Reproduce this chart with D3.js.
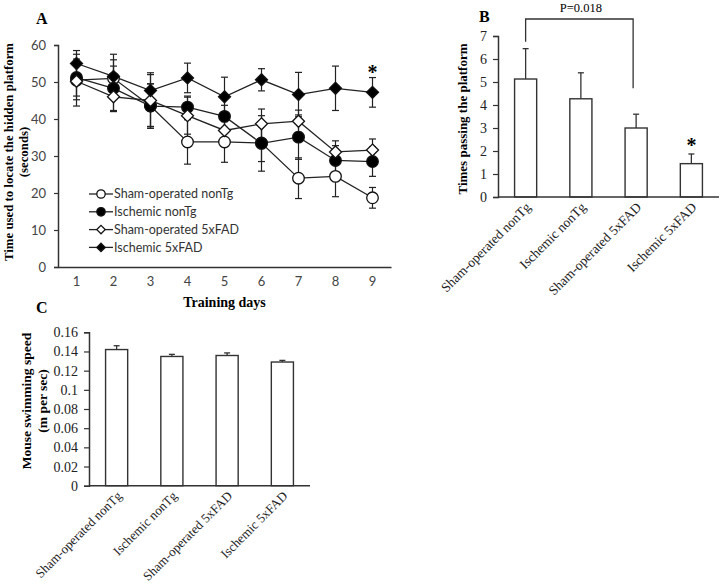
<!DOCTYPE html>
<html>
<head>
<meta charset="utf-8">
<script src="https://cdn.jsdelivr.net/npm/d3@7"></script>
<style>
  body { margin: 0; background: #fff; }
  svg { display: block; }
</style>
</head>
<body>
<div id="chart"></div>
<script>
// panel A: escape latency over training days
const days = [1, 2, 3, 4, 5, 6, 7, 8, 9];
const groups = ["Sham-operated nonTg", "Ischemic nonTg", "Sham-operated 5xFAD", "Ischemic 5xFAD"];
const shamNonTg = [50.5, 51, 43.5, 33.8, 33.8, 33.5, 24, 24.5, 18.7];
const shamNonTgErr = [7, 5, 6, 6, 5.5, 5, 5.5, 5.5, 2.8];
const ischNonTg = [51.2, 48.3, 43.5, 43.2, 40.7, 33.4, 35.1, 28.8, 28.5];
const ischNonTgErr = [5, 6, 6, 3, 3, 7.5, 6, 4, 4];
const shamFad = [50.2, 46, 45, 40.9, 36.9, 38.7, 39.4, 31.1, 31.6];
const shamFadErr = [5, 4, 7, 5, 4, 4, 3, 3, 3];
const ischFad = [55, 51.5, 47.7, 51.1, 46, 50.6, 46.6, 48.3, 47.2];
const ischFadErr = [3.5, 6, 4.8, 4, 5.3, 3, 6, 6, 4];
const yTicksA = [0, 10, 20, 30, 40, 50, 60];

// panel B: platform crossings
const crossings = [5.13, 4.27, 3.0, 1.45];
const crossingsErr = [1.32, 1.13, 0.6, 0.42];
const yTicksB = [0, 1, 2, 3, 4, 5, 6, 7];

// panel C: swimming speed
const speed = [0.142, 0.1348, 0.1358, 0.129];
const speedErr = [0.004, 0.0022, 0.0027, 0.0017];
const yTicksC = [0, 0.02, 0.04, 0.06, 0.08, 0.1, 0.12, 0.14, 0.16];

const serif = "'Liberation Serif', 'Times New Roman', serif";
const sans = "Lato, 'Open Sans', sans-serif";
const ink = "#333";

const svg = d3.select("#chart").append("svg")
  .attr("width", 723)
  .attr("height", 585);

// ---------- panel A ----------
const A = { left: 58, right: 391, top: 45, bottom: 267 };
const xA = d3.scaleBand().domain(days).range([A.left, A.right]);
const yA = d3.scaleLinear().domain([0, 60]).range([A.bottom, A.top]);

const gA = svg.append("g");

gA.append("g")
  .attr("transform", `translate(${A.left},0)`)
  .call(d3.axisLeft(yA).tickValues(yTicksA).tickSize(4).tickPadding(8))
  .call(g => g.select(".domain").attr("stroke", ink).attr("stroke-width", 1.5))
  .call(g => g.selectAll(".tick line").attr("stroke", ink).attr("stroke-width", 1.2))
  .call(g => g.selectAll("text").attr("font-family", sans).attr("font-size", 13).attr("fill", "#444"));

gA.append("g")
  .attr("transform", `translate(0,${A.bottom})`)
  .call(d3.axisBottom(xA).tickSize(0).tickPadding(10).tickSizeOuter(0))
  .call(g => g.select(".domain").attr("stroke", ink).attr("stroke-width", 1.5))
  .call(g => g.selectAll("text").attr("font-family", sans).attr("font-size", 13).attr("fill", "#444"));

gA.append("text")
  .attr("x", (A.left + A.right) / 2).attr("y", 307)
  .attr("text-anchor", "middle")
  .attr("font-family", serif).attr("font-weight", "bold").attr("font-size", 14)
  .text("Training days");

gA.append("text")
  .attr("transform", "translate(13,152) rotate(-90)")
  .attr("text-anchor", "middle")
  .attr("font-family", serif).attr("font-weight", "bold").attr("font-size", 12.8)
  .text("Time used to locate the hidden platform");
gA.append("text")
  .attr("transform", "translate(28,152) rotate(-90)")
  .attr("text-anchor", "middle")
  .attr("font-family", serif).attr("font-weight", "bold").attr("font-size", 12.8)
  .text("(seconds)");

gA.append("text")
  .attr("x", 36).attr("y", 24)
  .attr("font-family", serif).attr("font-weight", "bold").attr("font-size", 16)
  .text("A");

const series = [
  { name: groups[0], values: shamNonTg, err: shamNonTgErr, shape: "circle", fill: "#fff" },
  { name: groups[1], values: ischNonTg, err: ischNonTgErr, shape: "circle", fill: "#000" },
  { name: groups[2], values: shamFad, err: shamFadErr, shape: "diamond", fill: "#fff" },
  { name: groups[3], values: ischFad, err: ischFadErr, shape: "diamond", fill: "#000" }
];

const cx = d => xA(d) + xA.bandwidth() / 2;

function marker(sel, shape, fill, r) {
  if (shape === "circle") {
    sel.append("circle").attr("r", r)
      .attr("fill", fill).attr("stroke", "#111").attr("stroke-width", 1.3);
  } else {
    const s = r + 0.8;
    sel.append("path").attr("d", `M0,${-s}L${s},0L0,${s}L${-s},0Z`)
      .attr("fill", fill).attr("stroke", "#111").attr("stroke-width", 1.3);
  }
}

const line = d3.line().x((d, i) => cx(days[i])).y(d => yA(d));

// error bars first
series.forEach(s => {
  const eb = gA.append("g").attr("stroke", "#222").attr("stroke-width", 1.2);
  s.values.forEach((v, i) => {
    const x = cx(days[i]);
    eb.append("line").attr("x1", x).attr("x2", x).attr("y1", yA(v + s.err[i])).attr("y2", yA(v - s.err[i]));
    eb.append("line").attr("x1", x - 3.5).attr("x2", x + 3.5).attr("y1", yA(v + s.err[i])).attr("y2", yA(v + s.err[i]));
    eb.append("line").attr("x1", x - 3.5).attr("x2", x + 3.5).attr("y1", yA(v - s.err[i])).attr("y2", yA(v - s.err[i]));
  });
});

series.forEach(s => {
  gA.append("path").datum(s.values)
    .attr("d", line).attr("fill", "none").attr("stroke", "#222").attr("stroke-width", 1.3);
});

series.forEach(s => {
  gA.selectAll(null).data(s.values).join("g")
    .attr("transform", (d, i) => `translate(${cx(days[i])},${yA(d)})`)
    .each(function() { marker(d3.select(this), s.shape, s.fill, s.shape === "circle" ? 5.8 : 5.2); });
});

gA.append("text")
  .attr("x", cx(9)).attr("y", 79)
  .attr("text-anchor", "middle")
  .attr("font-family", serif).attr("font-weight", "bold").attr("font-size", 20)
  .text("*");

// legend
const legend = gA.append("g").attr("transform", "translate(89,194)");
series.forEach((s, i) => {
  const row = legend.append("g").attr("transform", `translate(0,${i * 17.8})`);
  row.append("line").attr("x1", 0).attr("x2", 24).attr("stroke", "#222").attr("stroke-width", 1.3);
  marker(row.append("g").attr("transform", "translate(12,0)"), s.shape, s.fill, s.shape === "circle" ? 4.2 : 3.4);
  row.append("text").attr("x", 25).attr("dy", "0.35em")
    .attr("font-family", sans).attr("font-size", 12.5).attr("fill", "#333")
    .text(s.name);
});

// ---------- bar panels ----------
function barPanel(opts) {
  const { left, right, top, bottom, domain, ticks, values, errs, fmt, catSize } = opts;
  const x = d3.scaleBand().domain(groups).range([left, right]).paddingInner(0.6).paddingOuter(0.3);
  const y = d3.scaleLinear().domain(domain).range([bottom, top]);
  const g = svg.append("g");

  g.append("g")
    .attr("transform", `translate(${left},0)`)
    .call(d3.axisLeft(y).tickValues(ticks).tickFormat(fmt).tickSize(5).tickPadding(6))
    .call(a => a.select(".domain").attr("stroke", ink).attr("stroke-width", 1.5))
    .call(a => a.selectAll(".tick line").attr("stroke", ink).attr("stroke-width", 1.2))
    .call(a => a.selectAll("text").attr("font-family", serif).attr("font-size", 14).attr("fill", "#222"));

  const bars = g.append("g");
  bars.selectAll("line.err").data(values).join("line").attr("class", "err")
    .attr("x1", (d, i) => x(groups[i]) + x.bandwidth() / 2)
    .attr("x2", (d, i) => x(groups[i]) + x.bandwidth() / 2)
    .attr("y1", d => y(d))
    .attr("y2", (d, i) => y(d + errs[i]))
    .attr("stroke", ink).attr("stroke-width", 1.3);
  bars.selectAll("line.cap").data(values).join("line").attr("class", "cap")
    .attr("x1", (d, i) => x(groups[i]) + x.bandwidth() / 2 - 3)
    .attr("x2", (d, i) => x(groups[i]) + x.bandwidth() / 2 + 3)
    .attr("y1", (d, i) => y(d + errs[i]))
    .attr("y2", (d, i) => y(d + errs[i]))
    .attr("stroke", ink).attr("stroke-width", 1.3);
  bars.selectAll("rect").data(values).join("rect")
    .attr("x", (d, i) => x(groups[i]))
    .attr("width", x.bandwidth())
    .attr("y", d => y(d))
    .attr("height", d => bottom - y(d))
    .attr("fill", "#fff").attr("stroke", ink).attr("stroke-width", 1.4);

  g.append("line")
    .attr("x1", left).attr("x2", right).attr("y1", bottom).attr("y2", bottom)
    .attr("stroke", ink).attr("stroke-width", 1.5);

  g.selectAll("text.cat").data(groups).join("text").attr("class", "cat")
    .attr("transform", d => `translate(${x(d) + x.bandwidth() / 2 + 6},${bottom + 11}) rotate(-45)`)
    .attr("text-anchor", "end")
    .attr("font-family", serif).attr("font-size", catSize).attr("fill", "#222")
    .text(d => d);

  return { x, y, g };
}

// panel B
const B = barPanel({
  left: 498, right: 719, top: 36, bottom: 197, catSize: 13.5,
  domain: [0, 7], ticks: yTicksB, values: crossings, errs: crossingsErr, fmt: d3.format("d")
});
const bx = d => B.x(d) + B.x.bandwidth() / 2;
B.g.append("path")
  .attr("d", `M${bx(groups[0])},${B.y(crossings[0] + crossingsErr[0]) - 7}V19H${bx(groups[2]) - 3}V${B.y(crossings[2] + crossingsErr[2]) - 26}`)
  .attr("fill", "none").attr("stroke", ink).attr("stroke-width", 1.3);
B.g.append("text")
  .attr("x", (bx(groups[0]) + bx(groups[2])) / 2).attr("y", 12)
  .attr("text-anchor", "middle")
  .attr("font-family", serif).attr("font-size", 12.5)
  .text("P=0.018");
B.g.append("text")
  .attr("x", bx(groups[3])).attr("y", B.y(crossings[3] + crossingsErr[3]) - 2)
  .attr("text-anchor", "middle")
  .attr("font-family", serif).attr("font-weight", "bold").attr("font-size", 20)
  .text("*");
B.g.append("text")
  .attr("x", 479).attr("y", 22)
  .attr("font-family", serif).attr("font-weight", "bold").attr("font-size", 16)
  .text("B");
B.g.append("text")
  .attr("transform", "translate(467,119) rotate(-90)")
  .attr("text-anchor", "middle")
  .attr("font-family", serif).attr("font-weight", "bold").attr("font-size", 13)
  .text("Times passing the platform");

// panel C
const C = barPanel({
  left: 89, right: 310, top: 332.3, bottom: 485.7, catSize: 13,
  domain: [0, 0.16], ticks: yTicksC, values: speed, errs: speedErr, fmt: d => d === 0 ? "0" : d3.format("")(+d.toFixed(2))
});
C.g.append("text")
  .attr("x", 36).attr("y", 313)
  .attr("font-family", serif).attr("font-weight", "bold").attr("font-size", 16)
  .text("C");
C.g.append("text")
  .attr("transform", "translate(31,401) rotate(-90)")
  .attr("text-anchor", "middle")
  .attr("font-family", serif).attr("font-weight", "bold").attr("font-size", 13.5)
  .text("Mouse swimming speed");
C.g.append("text")
  .attr("transform", "translate(47,401) rotate(-90)")
  .attr("text-anchor", "middle")
  .attr("font-family", serif).attr("font-weight", "bold").attr("font-size", 13.5)
  .text("(m per sec)");
</script>
</body>
</html>
